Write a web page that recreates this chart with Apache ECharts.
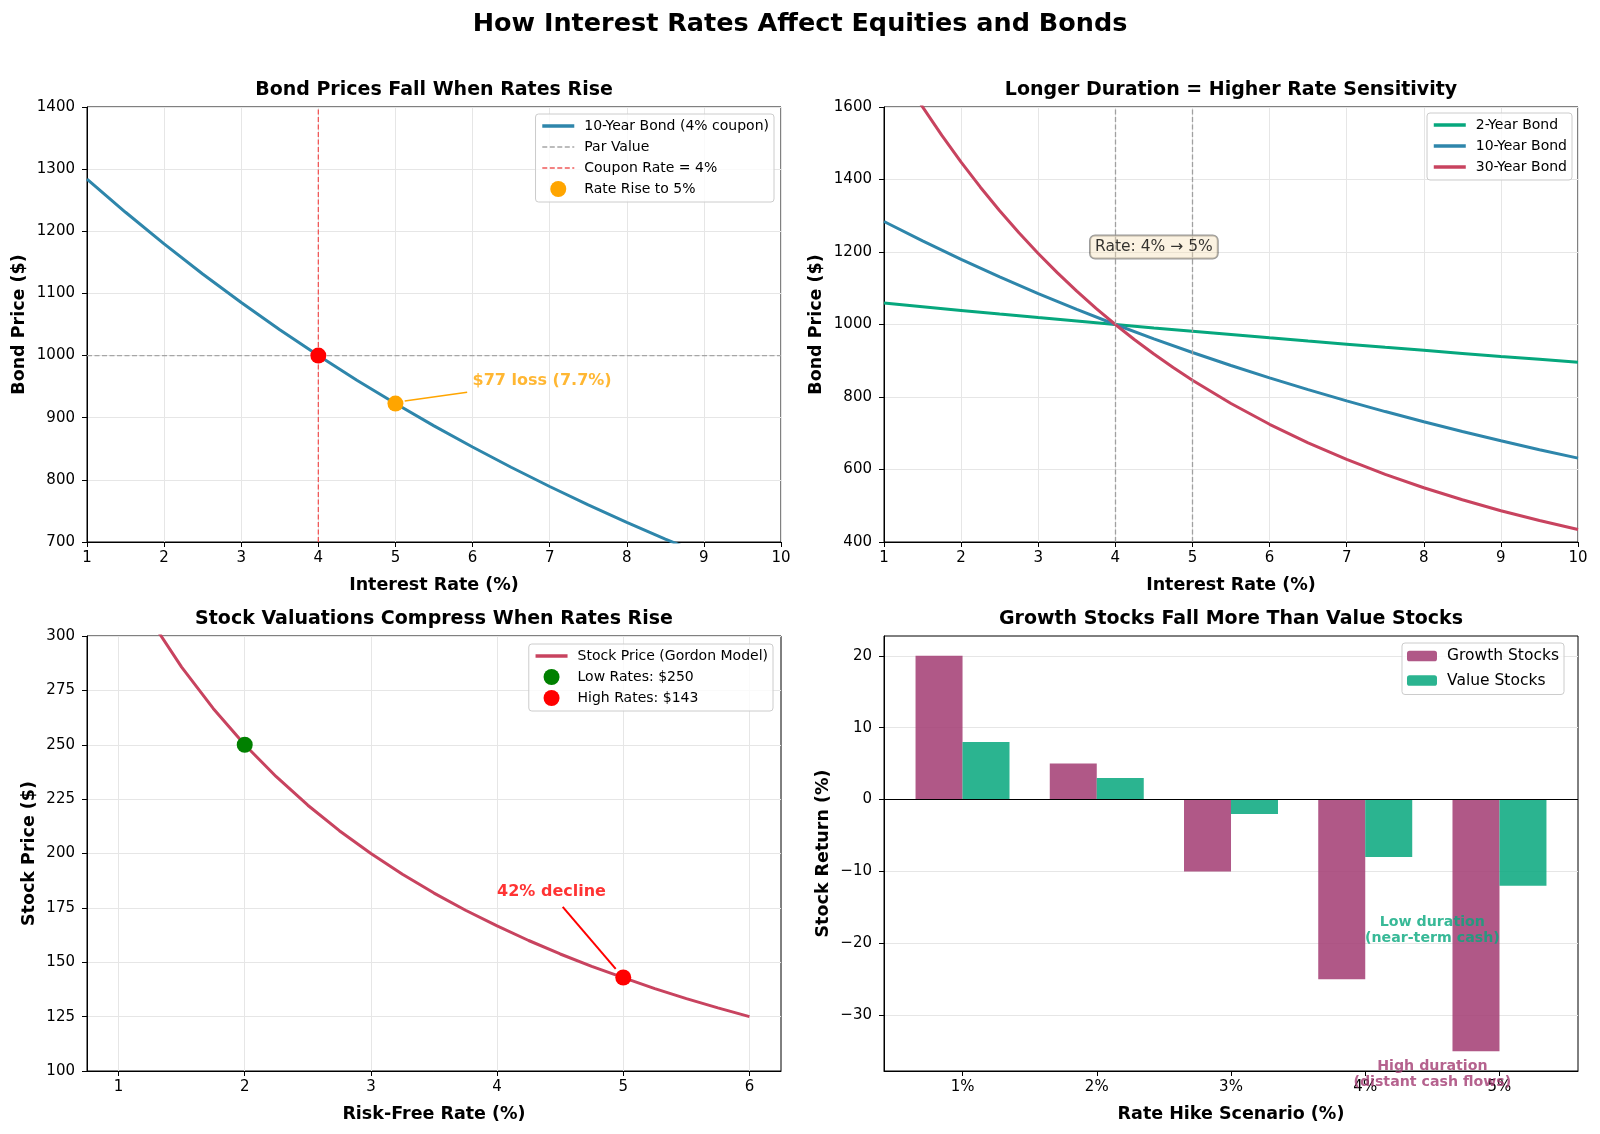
<!DOCTYPE html>
<html>
<head>
<meta charset="utf-8">
<title>How Interest Rates Affect Equities and Bonds</title>
<script src="https://cdn.jsdelivr.net/npm/echarts@6/dist/echarts.min.js"></script>
<style>
    html, body { margin: 0; padding: 0; background: #fff; }
    #main { width: 1600px; height: 1134px; }
</style>
</head>
<body>
<div id="main"></div>
<script>
// 利率 (%) - 债券面板
var rates = [1, 1.5, 2, 2.5, 3, 3.5, 4, 4.5, 5, 5.5, 6, 6.5, 7, 7.5, 8, 8.5, 9, 9.5, 10];
var bond2Price = [1059.1, 1048.9, 1038.8, 1028.9, 1019.1, 1009.5, 1000, 990.6, 981.4, 972.3, 963.3, 954.5, 945.8, 937.1, 928.7, 920.3, 912.0, 903.9, 895.9];
var bond10Price = [1284.1, 1230.6, 1179.7, 1131.3, 1085.3, 1041.6, 1000, 960.4, 922.8, 886.9, 852.8, 820.3, 789.3, 759.8, 731.6, 704.8, 679.1, 654.7, 631.3];
// 30年期曲率较大, 取更密的点
var rates30 = [1, 1.25, 1.5, 1.75, 2, 2.25, 2.5, 2.75, 3, 3.25, 3.5, 3.75, 4, 4.25, 4.5, 4.75, 5, 5.5, 6, 6.5, 7, 7.5, 8, 8.5, 9, 9.5, 10];
var bond30Price = [1774.2, 1684.6, 1600.4, 1521.7, 1447.9, 1378.8, 1313.9, 1253.1, 1196.0, 1142.4, 1092.0, 1044.5, 1000, 958.0, 918.6, 881.4, 846.3, 782.0, 724.7, 673.5, 627.8, 586.6, 549.7, 516.4, 486.3, 459.1, 434.4];

// 股票面板 (Gordon)
var stockRates = [1, 1.25, 1.5, 1.75, 2, 2.25, 2.5, 2.75, 3, 3.25, 3.5, 3.75, 4, 4.25, 4.5, 4.75, 5, 5.25, 5.5, 5.75, 6];
var stockPrice = [333.3, 307.7, 285.7, 266.7, 250, 235.3, 222.2, 210.5, 200, 190.5, 181.8, 173.9, 166.7, 160.0, 153.8, 148.1, 142.9, 137.9, 133.3, 129.0, 125];
var lowRatePoint = [2, 250];
var highRatePoint = [5, 143];
var stockRateTicks = [1, 2, 3, 4, 5, 6];

// 加息情景
var scenarios = ['1%', '2%', '3%', '4%', '5%'];
var growthReturn = [20, 5, -10, -25, -35];
var valueReturn = [8, 3, -2, -8, -12];
var returnTicks = [-30, -20, -10, 0, 10, 20];
var barHalfGap = 0.175;

var FONT = 'DejaVu Sans';
var GRID_COLOR = '#e6e6e6';

var myChart;
init();

function init() {
    myChart = echarts.init(document.getElementById('main'), null, {renderer: 'canvas'});
    myChart.setOption(buildOption());
}

function pairs(xs, ys) {
    return xs.map(function (x, i) { return [x, ys[i]]; });
}

function valueAxis(idx, o) {
    var ax = {
        type: 'value',
        gridIndex: idx,
        min: o.min,
        max: o.max,
        name: o.name,
        nameLocation: 'middle',
        nameGap: o.nameGap,
        nameTextStyle: {fontFamily: FONT, fontSize: 17.5, fontWeight: 'bold', color: '#000'},
        axisLine: {show: true, onZero: false, lineStyle: {color: '#000', width: 1}},
        axisTick: {show: true, length: 5, lineStyle: {color: '#000'}},
        axisLabel: {fontFamily: FONT, fontSize: 15, color: '#000', margin: o.margin || 9,
            formatter: o.formatter || function (v) { return String(v); }},
        splitLine: {show: o.grid !== false, lineStyle: {color: GRID_COLOR, width: 1}}
    };
    if (o.interval) ax.interval = o.interval;
    if (o.ticks) {
        ax.axisTick.customValues = o.ticks;
        ax.axisLabel.customValues = o.ticks;
    }
    return ax;
}

// 图例中的线条项 (隐藏默认圆点)
function lineItem(name, width) {
    return {name: name, itemStyle: {color: 'rgba(0,0,0,0)', borderWidth: 0, opacity: 0}, lineStyle: {width: width}};
}

function legendBox(names, right, top, font, itemW, itemH, lineH, gap) {
    return {
        data: names,
        orient: 'vertical',
        right: right,
        top: top,
        itemWidth: itemW,
        itemHeight: itemH,
        itemGap: gap,
        padding: [4, 5, 5, 5],
        backgroundColor: 'rgba(255,255,255,0.8)',
        borderColor: '#cccccc',
        borderWidth: 1,
        borderRadius: 3,
        textStyle: {fontFamily: FONT, fontSize: font, color: '#000', lineHeight: lineH, padding: [0, 0, 0, 5]}
    };
}

function subTitle(text, cx, top) {
    return {
        text: text, left: cx, top: top, textAlign: 'center', padding: 0,
        textStyle: {fontFamily: FONT, fontSize: 19, fontWeight: 'bold', color: '#000'}
    };
}

function textNote(xi, yi, pos, text, style) {
    return {
        type: 'scatter', xAxisIndex: xi, yAxisIndex: yi, silent: true, clip: false,
        symbolSize: 0, z: 6,
        data: [pos],
        label: echarts.util.merge({
            show: true, position: [0, 0], formatter: text,
            fontFamily: FONT, fontSize: 15, align: 'left', verticalAlign: 'middle'
        }, style, true)
    };
}

function arrow(from, to, color, width) {
    return {
        silent: true,
        symbol: ['none', 'arrow'],
        symbolSize: [0, 10],
        label: {show: false},
        lineStyle: {color: color, width: width, type: 'solid'},
        data: [[{coord: from}, {coord: to}]]
    };
}

function buildOption() {
    var grids = [
        {left: 87, top: 107, width: 694, height: 435},
        {left: 884, top: 107, width: 694, height: 435},
        {left: 87, top: 636, width: 694, height: 435},
        {left: 884, top: 636, width: 694, height: 435}
    ].map(function (g) {
        g.show = true; g.borderColor = '#000'; g.borderWidth = 1; g.containLabel = false;
        return g;
    });

    var xAxes = [
        valueAxis(0, {min: 1, max: 10, interval: 1, name: 'Interest Rate (%)', nameGap: 34}),
        valueAxis(1, {min: 1, max: 10, interval: 1, name: 'Interest Rate (%)', nameGap: 34}),
        valueAxis(2, {min: 0.75, max: 6.25, name: 'Risk-Free Rate (%)', nameGap: 34, ticks: stockRateTicks}),
        valueAxis(3, {min: -0.585, max: 4.585, name: 'Rate Hike Scenario (%)', nameGap: 34, grid: false,
            ticks: scenarios.map(function (s, i) { return i; }),
            formatter: function (v) { return scenarios[Math.round(v)] || ''; }})
    ];
    var yAxes = [
        valueAxis(0, {min: 700, max: 1400, interval: 100, name: 'Bond Price ($)', nameGap: 59, margin: 12}),
        valueAxis(1, {min: 400, max: 1600, interval: 200, name: 'Bond Price ($)', nameGap: 59, margin: 12}),
        valueAxis(2, {min: 100, max: 300, interval: 25, name: 'Stock Price ($)', nameGap: 49, margin: 12}),
        valueAxis(3, {min: -37.75, max: 22.75, name: 'Stock Return (%)', nameGap: 52, margin: 12, ticks: returnTicks,
            formatter: function (v) { return String(v).replace('-', '\u2212'); }})
    ];

    var blue = '#2E86AB', green = '#06A77D', crimson = '#C8435F', magenta = '#A23B72';

    var series = [
        // 面板1
        {name: '10-Year Bond (4% coupon)', type: 'line', xAxisIndex: 0, yAxisIndex: 0, data: pairs(rates, bond10Price),
            symbol: 'none', lineStyle: {color: blue, width: 3}, itemStyle: {color: blue}, z: 3},
        {name: 'Par Value', type: 'line', xAxisIndex: 0, yAxisIndex: 0, data: [[1, 1000], [10, 1000]],
            symbol: 'none', lineStyle: {color: '#a6a6a6', width: 1.3, type: [5, 2.5]}, itemStyle: {color: '#a6a6a6'}, z: 2},
        {name: 'Coupon Rate = 4%', type: 'line', xAxisIndex: 0, yAxisIndex: 0, data: [[4, 700], [4, 1400]],
            symbol: 'none', lineStyle: {color: '#f05a5a', width: 1.3, type: [5, 2.5]}, itemStyle: {color: '#f05a5a'}, z: 2},
        {name: 'Rate Rise to 5%', type: 'scatter', xAxisIndex: 0, yAxisIndex: 0, data: [[5, bond10Price[8]]],
            symbolSize: 16, itemStyle: {color: '#FFA500', opacity: 1}, z: 5},
        {name: 'Par Point', type: 'scatter', xAxisIndex: 0, yAxisIndex: 0, data: [[4, 1000]],
            symbolSize: 16, itemStyle: {color: '#FF0000', opacity: 1}, z: 5},
        echarts.util.merge(textNote(0, 0, [6, 959], '$77 loss (7.7%)', {color: '#FFA500', fontWeight: 'bold', fontSize: 16}),
            {markLine: arrow([5.93, 941], [5.12, 927], '#FFA500', 1.5)}),

        // 面板2
        {name: '2-Year Bond', type: 'line', xAxisIndex: 1, yAxisIndex: 1, data: pairs(rates, bond2Price),
            symbol: 'none', lineStyle: {color: green, width: 3}, itemStyle: {color: green}, z: 3,
            markLine: {silent: true, symbol: ['none', 'none'], label: {show: false},
                lineStyle: {color: '#a0a0a0', width: 1.3, type: [5, 2.5]}, data: [{xAxis: 4}, {xAxis: 5}]}},
        {name: '10-Year Bond', type: 'line', xAxisIndex: 1, yAxisIndex: 1, data: pairs(rates, bond10Price),
            symbol: 'none', lineStyle: {color: blue, width: 3}, itemStyle: {color: blue}, z: 3},
        {name: '30-Year Bond', type: 'line', xAxisIndex: 1, yAxisIndex: 1, data: pairs(rates30, bond30Price),
            symbol: 'none', lineStyle: {color: crimson, width: 3}, itemStyle: {color: crimson}, z: 3},
        textNote(1, 1, [4.5, 1214], 'Rate: 4% \u2192 5%', {color: '#000', fontSize: 15.5, align: 'center',
            backgroundColor: 'rgba(245,222,179,0.5)', borderColor: 'rgba(0,0,0,0.5)', borderWidth: 1, borderRadius: 5, padding: [4, 5, 3, 5]}),

        // 面板3
        {name: 'Stock Price (Gordon Model)', type: 'line', xAxisIndex: 2, yAxisIndex: 2, data: pairs(stockRates, stockPrice),
            symbol: 'none', lineStyle: {color: crimson, width: 3}, itemStyle: {color: crimson}, z: 3},
        {name: 'Low Rates: $250', type: 'scatter', xAxisIndex: 2, yAxisIndex: 2, data: [lowRatePoint],
            symbolSize: 16, itemStyle: {color: '#008000', opacity: 1}, z: 5},
        {name: 'High Rates: $143', type: 'scatter', xAxisIndex: 2, yAxisIndex: 2, data: [highRatePoint],
            symbolSize: 16, itemStyle: {color: '#FF0000', opacity: 1}, z: 5},
        echarts.util.merge(textNote(2, 2, [4, 182.4], '42% decline', {color: '#FF0000', fontWeight: 'bold', fontSize: 16}),
            {markLine: arrow([4.52, 175.5], [4.94, 147], '#FF0000', 2)}),

        // 面板4
        {name: 'Growth Stocks', type: 'bar', xAxisIndex: 3, yAxisIndex: 3, barWidth: 47, barGap: '-100%',
            data: growthReturn.map(function (v, i) { return [i - barHalfGap, v]; }),
            itemStyle: {color: 'rgba(162,59,114,0.85)'}, z: 2,
            markLine: {silent: true, symbol: ['none', 'none'], label: {show: false},
                lineStyle: {color: '#000', width: 1.2, type: 'solid'}, data: [{yAxis: 0}]}},
        {name: 'Value Stocks', type: 'bar', xAxisIndex: 3, yAxisIndex: 3, barWidth: 47, barGap: '-100%',
            data: valueReturn.map(function (v, i) { return [i + barHalfGap, v]; }),
            itemStyle: {color: 'rgba(6,167,125,0.85)'}, z: 2},
        textNote(3, 3, [3.5, -18.2], 'Low duration\n(near-term cash)', {color: green, fontWeight: 'bold', fontSize: 14.2, align: 'center', lineHeight: 15.5}),
        textNote(3, 3, [3.5, -38.2], 'High duration\n(distant cash flows)', {color: magenta, fontWeight: 'bold', fontSize: 14.2, align: 'center', lineHeight: 15.5})
    ];

    return {
        backgroundColor: '#fff',
        animation: false,
        title: [
            {text: 'How Interest Rates Affect Equities and Bonds', left: 800, top: 11, textAlign: 'center', padding: 0,
                textStyle: {fontFamily: FONT, fontSize: 25.5, fontWeight: 'bold', color: '#000'}},
            subTitle('Bond Prices Fall When Rates Rise', 434, 81),
            subTitle('Longer Duration = Higher Rate Sensitivity', 1231, 81),
            subTitle('Stock Valuations Compress When Rates Rise', 434, 610),
            subTitle('Growth Stocks Fall More Than Value Stocks', 1231, 610)
        ],
        legend: [
            legendBox([lineItem('10-Year Bond (4% coupon)', 3.5), lineItem('Par Value', 1.3), lineItem('Coupon Rate = 4%', 1.3), 'Rate Rise to 5%'],
                826, 114, 14, 32, 16, 16, 5),
            legendBox([lineItem('2-Year Bond', 3.5), lineItem('10-Year Bond', 3.5), lineItem('30-Year Bond', 3.5)], 28, 113, 14, 32, 16, 16, 5),
            legendBox([lineItem('Stock Price (Gordon Model)', 3.5), 'Low Rates: $250', 'High Rates: $143'], 827, 644, 14, 32, 16, 16, 5),
            legendBox(['Growth Stocks', 'Value Stocks'], 36, 643, 15.5, 30, 10.5, 18, 6.5)
        ],
        grid: grids,
        xAxis: xAxes,
        yAxis: yAxes,
        series: series
    };
}
</script>
</body>
</html>
